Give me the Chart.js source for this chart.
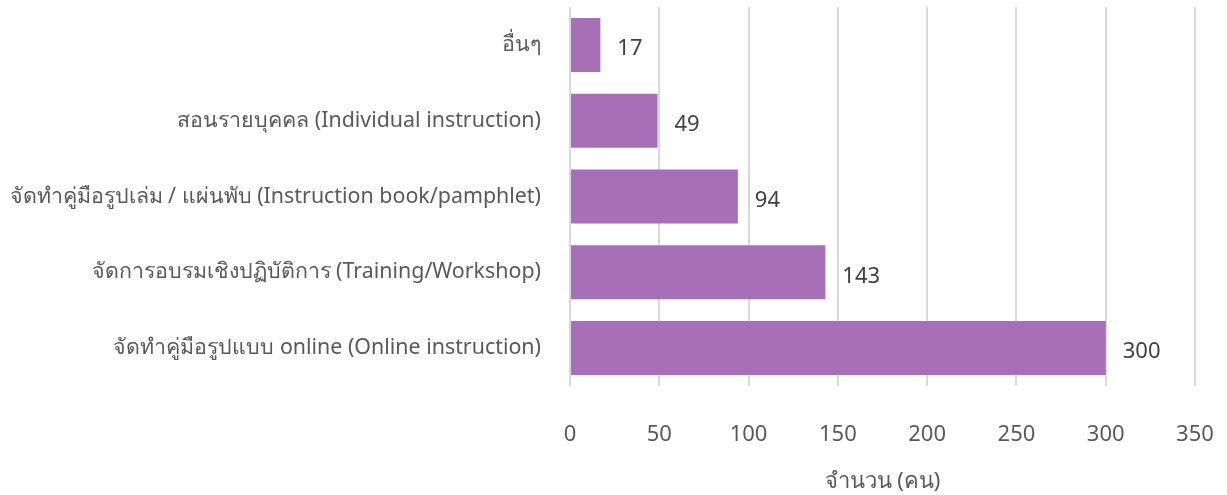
<!DOCTYPE html>
<html>
<head>
<meta charset="utf-8">
<script src="https://cdn.jsdelivr.net/npm/chart.js@4"></script>
<style>
  html, body { margin: 0; padding: 0; background: #fff; }
  #wrap { width: 1227px; height: 495px; position: relative; }
</style>
</head>
<body>
<div id="wrap"><canvas id="chart"></canvas></div>
<script>
const categories = [
  'อื่นๆ',
  'สอนรายบุคคล (Individual instruction)',
  'จัดทำคู่มือรูปเล่ม / แผ่นพับ (Instruction book/pamphlet)',
  'จัดการอบรมเชิงปฏิบัติการ (Training/Workshop)',
  'จัดทำคู่มือรูปแบบ online (Online instruction)'
];
const counts = [17, 49, 94, 143, 300];
const xTicks = [0, 50, 100, 150, 200, 250, 300, 350];
const xTitle = 'จำนวน (คน)';

const FONT = "'Noto Sans', sans-serif";

// value text to the right of each bar
const valueLabels = {
  id: 'valueLabels',
  afterDatasetsDraw(chart) {
    const ctx = chart.ctx;
    const meta = chart.getDatasetMeta(0);
    ctx.save();
    ctx.font = '22px ' + FONT;
    ctx.fillStyle = '#404040';
    ctx.textAlign = 'left';
    ctx.textBaseline = 'middle';
    meta.data.forEach((bar, i) => {
      ctx.fillText(String(counts[i]), bar.x + 17, bar.y + 4);
    });
    ctx.restore();
  }
};

function noPad(scale) {
  scale.paddingTop = 0;
  scale.paddingBottom = 0;
  scale.paddingLeft = 0;
  scale.paddingRight = 0;
}

const ctx = document.getElementById('chart');

new Chart(ctx, {
  type: 'bar',
  data: {
    labels: categories,
    datasets: [{
      data: counts,
      backgroundColor: '#a86fb9',
      borderWidth: 0,
      barPercentage: 0.712,
      categoryPercentage: 1
    }]
  },
  options: {
    indexAxis: 'y',
    responsive: true,
    maintainAspectRatio: false,
    animation: false,
    layout: { padding: { top: 7, right: 32, left: 0, bottom: 0 } },
    plugins: {
      legend: { display: false },
      tooltip: { enabled: false }
    },
    scales: {
      x: {
        min: 0,
        max: 350,
        afterBuildTicks(scale) {
          scale.ticks = xTicks.map(v => ({ value: v }));
        },
        grid: { color: '#d9d9d9', lineWidth: 2, drawTicks: false },
        border: { display: false },
        ticks: {
          padding: 36,
          color: '#595959',
          font: { family: FONT, size: 22 }
        },
        title: {
          display: true,
          text: xTitle,
          color: '#595959',
          font: { family: FONT, size: 22 },
          padding: { top: 6, bottom: 0 }
        },
        afterFit(scale) { scale.height = 109; noPad(scale); }
      },
      y: {
        grid: { display: false, drawTicks: false },
        border: { display: false },
        ticks: {
          padding: 29,
          color: '#595959',
          font: { family: FONT, size: 21.4 }
        },
        afterFit(scale) { scale.width = 570; noPad(scale); }
      }
    }
  },
  plugins: [valueLabels]
});
</script>
</body>
</html>
